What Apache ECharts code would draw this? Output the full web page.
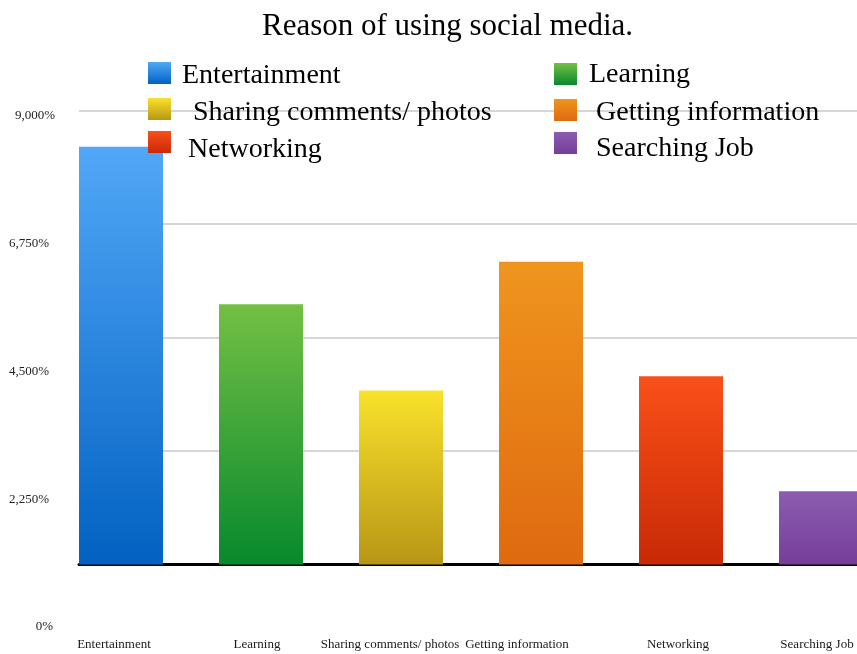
<!DOCTYPE html>
<html>
<head>
<meta charset="utf-8">
<style>
  html, body { margin: 0; padding: 0; background: #ffffff; }
  #chart { width: 857px; height: 654px; }
</style>
<script src="https://cdn.jsdelivr.net/npm/echarts@6/dist/echarts.min.js"></script>
</head>
<body>
<div id="chart"></div>
<script>
// Survey: reasons for using social media (values in percent)
const categories = ['Entertainment', 'Learning', 'Sharing comments/ photos', 'Getting information', 'Networking', 'Searching Job'];
const values = [8280, 5160, 3450, 6000, 3730, 1450];
const tickValues = [0, 2250, 4500, 6750, 9000];

// Top / bottom colours of each bar's vertical gradient
const topColors = ['#52a8f7', '#73c044', '#f9e22b', '#ef951e', '#fa5019', '#8b5db0'];
const bottomColors = ['#0261c1', '#07892d', '#b89616', '#df6a10', '#c82906', '#763d9a'];

// Small horizontal nudges of the category labels (px to the left)
const labelShift = [7, 4, 11, 24, 3, 4];

const FONT = '"Liberation Serif", "Times New Roman", serif';

function gradient(i) {
  return new echarts.graphic.LinearGradient(0, 0, 0, 1, [
    { offset: 0, color: topColors[i] },
    { offset: 1, color: bottomColors[i] }
  ]);
}

// one series per category so every reason gets its own legend entry
const series = categories.map((name, i) => ({
  name: name,
  type: 'bar',
  stack: 'reasons',
  xAxisIndex: 0,
  yAxisIndex: 0,
  barWidth: '60%',
  itemStyle: { color: gradient(i) },
  data: categories.map((c, j) => (j === i ? values[i] : '-'))
}));

// legend placement: [left, top, text padding-left, text padding-top]
const legendPos = [
  [148, 61.5, 6, 5],
  [554, 60.5, 7, 1],
  [148, 98, 17, 7],
  [554, 99, 14, 6],
  [148, 131, 12, 15],
  [554, 132, 14, 11]
];
const legends = categories.map((name, i) => ({
  data: [name],
  left: legendPos[i][0],
  top: legendPos[i][1],
  padding: 0,
  itemWidth: 23,
  itemHeight: 22,
  itemGap: 0,
  selectedMode: false,
  icon: 'rect',
  formatter: n => '{t|' + n + '}',
  textStyle: {
    color: '#000',
    fontFamily: FONT,
    fontSize: 28,
    rich: {
      t: {
        color: '#000',
        fontFamily: FONT,
        fontSize: 28,
        padding: [legendPos[i][3], 0, 0, legendPos[i][2]]
      }
    }
  }
}));

const xRich = {};
labelShift.forEach((s, i) => {
  xRich['c' + i] = {
    fontFamily: FONT, fontSize: 13, color: '#1a1a1a',
    padding: [0, s * 2, 0, 0]
  };
});

const option = {
  backgroundColor: '#ffffff',
  animation: false,
  title: {
    text: 'Reason of using social media.',
    left: 257,
    top: 6,
    textStyle: { fontFamily: FONT, fontSize: 31, fontWeight: 'normal', color: '#000' }
  },
  legend: legends,
  grid: [
    // bars (the last band runs past the right edge)
    { left: 51, width: 840, top: 110.5, bottom: 89.5, outerBoundsMode: 'none', containLabel: false },
    // horizontal guide lines and baseline
    { left: 79, right: 0, top: 110.5, bottom: 89.5, outerBoundsMode: 'none' },
    // value labels on the left
    { left: 55, width: 10, top: 116, bottom: 27, outerBoundsMode: 'none' }
  ],
  xAxis: [
    {
      gridIndex: 0,
      type: 'category',
      data: categories,
      axisLine: { show: false },
      axisTick: { show: false },
      axisLabel: {
        interval: 0,
        margin: 74,
        formatter: (v, idx) => '{c' + idx + '|' + v + '}',
        rich: xRich
      }
    },
    {
      gridIndex: 1,
      type: 'value',
      min: 0,
      max: 1,
      axisLine: { show: true, onZero: false, lineStyle: { color: '#000', width: 3 } },
      axisTick: { show: false },
      axisLabel: { show: false },
      splitLine: { show: false }
    },
    {
      gridIndex: 2,
      type: 'value',
      min: 0,
      max: 1,
      show: false
    }
  ],
  yAxis: [
    {
      gridIndex: 0,
      type: 'value',
      min: 0,
      max: 9000,
      interval: 2250,
      show: false
    },
    {
      gridIndex: 1,
      type: 'value',
      min: 0,
      max: 9000,
      interval: 2250,
      axisLine: { show: false },
      axisTick: { show: false },
      axisLabel: { show: false },
      splitLine: { show: true, lineStyle: { color: '#c8c8c8', width: 1.5 } },
      z: 0
    },
    {
      gridIndex: 2,
      type: 'value',
      min: tickValues[0],
      max: tickValues[tickValues.length - 1],
      interval: tickValues[1] - tickValues[0],
      axisLine: { show: false },
      axisTick: { show: false },
      splitLine: { show: false },
      axisLabel: {
        margin: 0,
        align: 'right',
        formatter: v => {
          const txt = v.toLocaleString('en-US') + '%';
          if (v === 9000) return '{a|' + txt + '}';
          if (v === 0) return '{z|' + txt + '}';
          return '{b|' + txt + '}';
        },
        rich: {
          a: { fontFamily: FONT, fontSize: 13, color: '#222', padding: [0, 0, 0, 0] },
          b: { fontFamily: FONT, fontSize: 13, color: '#222', padding: [0, 6, 0, 0] },
          z: { fontFamily: FONT, fontSize: 13, color: '#222', padding: [0, 2, 0, 0] }
        }
      }
    }
  ],
  series: series
};

const chart = echarts.init(document.getElementById('chart'), null, { renderer: 'canvas' });
chart.setOption(option);
</script>
</body>
</html>
